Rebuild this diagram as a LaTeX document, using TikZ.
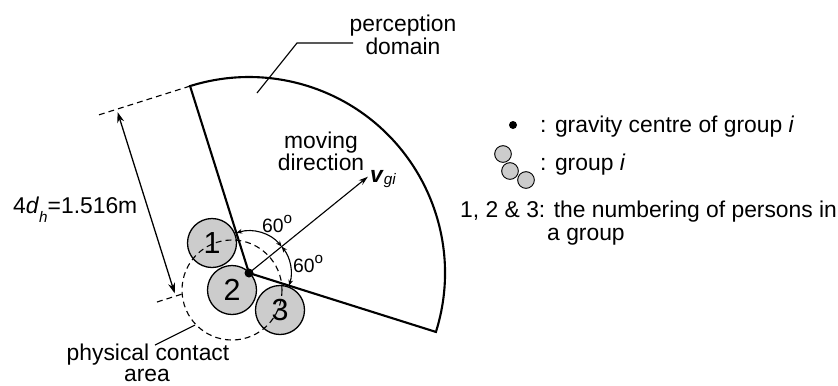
\documentclass[tikz,border=0pt]{standalone}
\usepackage{fontspec}
\setmainfont{Liberation Sans}
\usetikzlibrary{arrows.meta}
\begin{document}
\begin{tikzpicture}[x=0.03cm,y=-0.03cm,
  thickline/.style={line width=1.8pt, line join=miter},
  thinline/.style={line width=0.95pt},
  dashline/.style={line width=0.95pt, dash pattern=on 5pt off 3.5pt},
  person/.style={circle, draw, line width=1.1pt, fill=gray!40, minimum size=1.47cm, inner sep=0pt,
                 font=\fontsize{26}{26}\selectfont},
  miniperson/.style={circle, draw, line width=0.8pt, fill=gray!40, minimum size=0.5cm, inner sep=0pt},
  lbl/.style={font=\fontsize{19.5}{21}\selectfont, inner sep=0pt},
  anglbl/.style={font=\fontsize{16.5}{17}\selectfont, inner sep=0pt, anchor=base west},
]
\useasboundingbox (0,0) rectangle (838,385);

% persons
\node[person] (p1) at (212,243) {1};
\node[person] (p2) at (232,290) {2};
\node[person] (p3) at (280,310) {3};

% physical contact area
\draw[dashline] (p2.center) circle[radius=50];

% sector (perception domain)
\coordinate (C) at (249,273);
\path (C) ++(-107.5:196) coordinate (L);
\path (C) ++(17.5:196) coordinate (R);
\draw[thickline] (C) -- (R) arc[start angle=17.5, end angle=-107.5, radius=196] -- cycle;

% moving direction
\path (C) ++(-39:153) coordinate (V);
\draw[thinline, -{Stealth[length=8pt,width=5pt]}] (C) -- (V);

% 60 degree arcs
\path (C) ++(-107.5:42) coordinate (A1);
\path (C) ++(-39:42) coordinate (A2);
\draw[thinline, {Stealth[length=5pt,width=4pt]}-{Stealth[length=5pt,width=4pt]}] (A1) arc[start angle=-107.5, end angle=-39, radius=42];
\draw[thinline, {Stealth[length=5pt,width=4pt]}-{Stealth[length=5pt,width=4pt]}] (A2) arc[start angle=-39, end angle=17.5, radius=42];

% gravity centre
\fill (C) circle[radius=4.5];

% dimension 4d_h
\coordinate (E1) at (97.6,115.3);
\coordinate (D1) at (116.7,109.3);
\coordinate (D2) at (175.6,296.2);
\coordinate (E3) at (157.0,302.0);
\coordinate (E4) at (182.2,294.0);
\draw[dashline] (L) -- (E1);
\draw[dashline] (E3) -- (E4);
\draw[line width=1.1pt, {Stealth[length=9pt,width=6pt]}-{Stealth[length=9pt,width=6pt]}, shorten <=2.5pt, shorten >=2.5pt] (D1) -- (D2);

% leaders
\coordinate (pl1) at (257,93);
\coordinate (pl2) at (297,43);
\coordinate (pl3) at (353,43);
\draw[thinline] (pl1) -- (pl2) -- (pl3);
\coordinate (cl1) at (155,345);
\coordinate (cl2) at (195,325);
\draw[thinline] (cl1) -- (cl2);

% labels
\node[lbl, anchor=base] (pd1) at (403,31) {perception};
\node[lbl, anchor=base] (pd2) at (403,54) {domain};
\node[lbl, anchor=base] (md1) at (321,148) {moving};
\node[lbl, anchor=base] (md2) at (321,170) {direction};
\node[lbl, anchor=base west] (vg) at (370,182) {\textbf{\textit{v}}\raisebox{-2.5pt}{\fontsize{13}{13}\selectfont\itshape gi}};
\node[anglbl] (a60a) at (262,232) {60\raisebox{7pt}{\fontsize{13}{13}\selectfont o}};
\node[anglbl] (a60b) at (293,272) {60\raisebox{7pt}{\fontsize{13}{13}\selectfont o}};
\node[lbl, anchor=base west] (dh) at (13,213) {4\textit{d}\raisebox{-8pt}{\fontsize{13}{13}\selectfont\itshape h}=1.516m};
\node[lbl, anchor=base] (pc1) at (148,360) {physical contact};
\node[lbl, anchor=base] (pc2) at (147,381) {area};

% legend
\fill (513,125) circle[radius=4];
\node[lbl, anchor=base west] (lg1) at (540,132) {: gravity centre of group \textit{i}};
\node[miniperson] (m1) at (503,154) {};
\node[miniperson] (m2) at (510,171) {};
\node[miniperson] (m3) at (526,180) {};
\node[lbl, anchor=base west] (lg2) at (540,170) {: group \textit{i}};
\node[lbl, anchor=base west] (lg3) at (460,217) {1, 2 \& 3: the numbering of persons in};
\node[lbl, anchor=base west] (lg4) at (547,240) {a group};
\end{tikzpicture}
\end{document}
